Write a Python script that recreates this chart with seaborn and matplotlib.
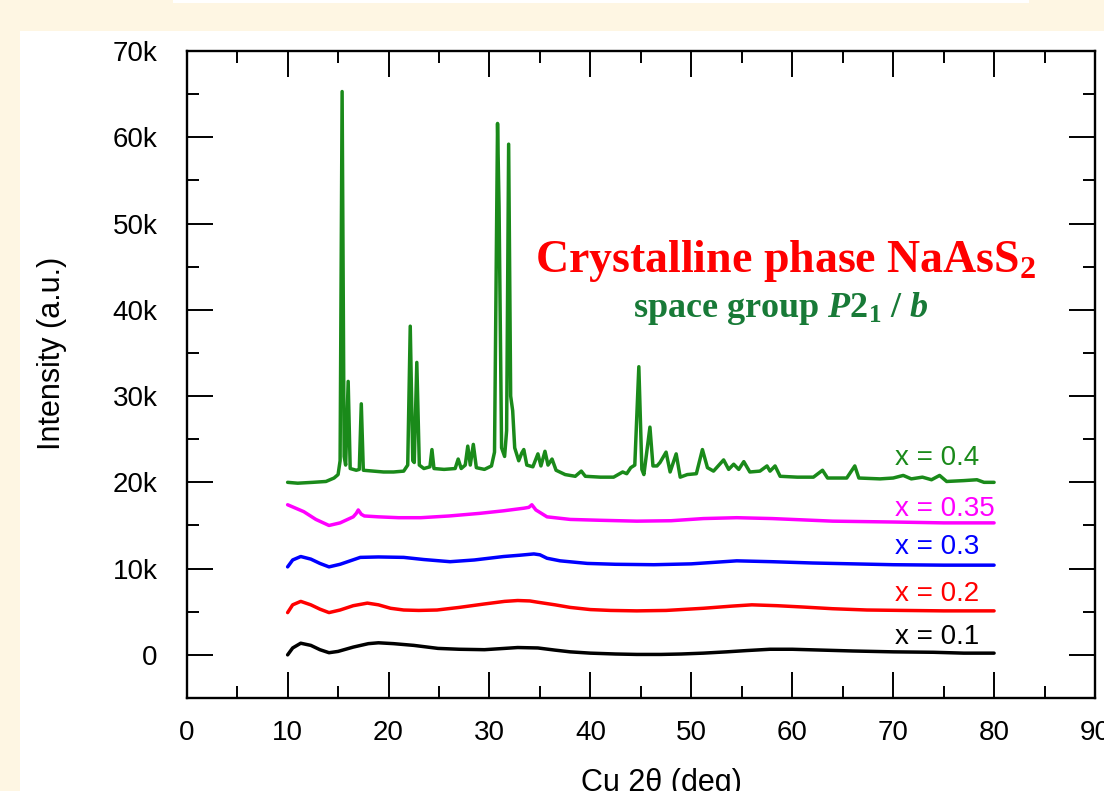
import matplotlib
matplotlib.use("Agg")
import matplotlib.pyplot as plt
from matplotlib.patches import Rectangle
from matplotlib.ticker import MultipleLocator, FuncFormatter
import pandas as pd
import seaborn as sns

# ---------------------------------------------------------------------------
# XRD patterns (Cu K-alpha), 2-theta in degrees, intensity in counts.
# Each pattern is stacked with its own vertical offset already included.
# ---------------------------------------------------------------------------
two_theta_01 = [10, 10.5, 11.3, 12.3, 13.2, 14.1, 15.0, 16.5, 18.0, 19.0, 20.5,
                22.5, 24.9, 27.0, 29.5, 31.5, 32.8, 34.8, 36.5, 38.0, 40.0, 42.5,
                44.6, 47.0, 49.0, 51.2, 53.5, 55.5, 57.8, 60.0, 63.0, 66.0, 70.0,
                74.0, 77.0, 80.0]
intensity_01 = [0, 800, 1350, 1100, 600, 250, 400, 900, 1300, 1400, 1300,
                1100, 750, 650, 600, 750, 850, 800, 550, 350, 200, 100,
                50, 50, 100, 200, 350, 500, 650, 650, 550, 450, 350,
                300, 200, 200]

two_theta_02 = [10, 10.5, 11.3, 12.3, 13.2, 14.1, 15.2, 16.5, 17.9, 19.0, 20.2,
                21.5, 23.0, 24.8, 27.0, 29.5, 31.5, 32.8, 34.0, 34.8, 36.5, 38.0,
                40.0, 42.0, 44.6, 47.5, 51.2, 54.0, 56.0, 58.5, 61.0, 64.0, 67.4,
                71.0, 75.0, 80.0]
intensity_02 = [4900, 5800, 6200, 5800, 5300, 4900, 5200, 5700, 6000, 5800, 5400,
                5200, 5150, 5200, 5500, 5900, 6200, 6300, 6250, 6100, 5800, 5500,
                5250, 5150, 5100, 5150, 5400, 5650, 5800, 5700, 5550, 5350, 5200,
                5150, 5100, 5100]

two_theta_03 = [10, 10.5, 11.3, 12.3, 13.2, 14.1, 15.2, 16.2, 17.2, 19.0, 21.5,
                23.5, 26.1, 28.5, 31.4, 33.0, 34.4, 35.0, 35.7, 37.0, 39.7, 42.5,
                46.3, 50.0, 54.5, 58.0, 62.0, 66.0, 70.0, 75.0, 80.0]
intensity_03 = [10200, 11000, 11400, 11100, 10600, 10200, 10500, 10900, 11300,
                11350, 11300, 11050, 10800, 11000, 11400, 11550, 11700, 11600,
                11200, 10900, 10600, 10500, 10450, 10550, 10900, 10800, 10650,
                10550, 10450, 10400, 10400]

two_theta_035 = [10, 10.6, 11.6, 12.8, 14.1, 15.2, 16.5, 16.8, 17.0, 17.3, 17.6,
                 19.0, 21.0, 23.2, 26.0, 29.0, 31.4, 33.4, 33.9, 34.2, 34.6, 35.7,
                 38.0, 41.0, 44.6, 48.0, 51.2, 54.5, 58.0, 64.0, 70.0, 75.0, 80.0]
intensity_035 = [17400, 17100, 16600, 15700, 15000, 15300, 16000, 16400, 16800,
                 16300, 16100, 16000, 15900, 15900, 16100, 16400, 16700, 17000,
                 17100, 17400, 16800, 16000, 15700, 15600, 15500, 15550, 15800,
                 15900, 15800, 15500, 15400, 15300, 15300]

two_theta_04 = [10.0, 11.0, 12.5, 13.8, 14.6, 15.0, 15.2, 15.4, 15.6, 15.75, 16.0,
                16.2, 16.8, 17.1, 17.3, 17.5, 18.5, 19.5, 20.5, 21.5, 21.9, 22.15,
                22.4, 22.55, 22.8, 23.05, 23.5, 24.1, 24.3, 24.5, 25.5, 26.6, 26.9,
                27.2, 27.6, 27.85, 28.1, 28.4, 28.7, 29.5, 30.2, 30.5, 30.8, 30.95,
                31.2, 31.5, 31.7, 31.9, 32.1, 32.3, 32.5, 32.9, 33.2, 33.4, 33.7,
                34.3, 34.8, 35.1, 35.5, 35.8, 36.2, 36.6, 37.5, 38.5, 39.1, 39.5,
                41.0, 42.3, 43.2, 43.6, 44.0, 44.4, 44.8, 45.1, 45.3, 45.9, 46.2,
                46.6, 46.9, 47.5, 47.9, 48.5, 48.9, 49.6, 50.5, 51.1, 51.6, 52.2,
                53.2, 53.7, 54.2, 54.7, 55.2, 55.8, 56.8, 57.5, 57.8, 58.3, 58.8,
                60.5, 62.1, 63.0, 63.5, 65.4, 66.2, 66.6, 68.7, 70.0, 71.0, 71.8,
                72.9, 73.8, 74.6, 75.3, 77.0, 78.3, 79.0, 80.0]
intensity_04 = [20000, 19900, 20000, 20100, 20500, 20900, 22500, 65300, 23000,
                22000, 31700, 21600, 21400, 21500, 29100, 21400, 21300, 21200,
                21200, 21300, 22000, 38100, 22500, 22300, 33900, 22000, 21600,
                21800, 23800, 21600, 21500, 21600, 22700, 21600, 22000, 24200,
                22000, 24400, 21700, 21500, 21900, 23500, 61600, 52000, 24000,
                23000, 26000, 59200, 30000, 28300, 24000, 22500, 23400, 23800,
                22000, 21800, 23300, 21900, 23600, 22000, 22700, 21400, 20900,
                20700, 21300, 20700, 20600, 20600, 21200, 21000, 21700, 22000,
                33400, 21500, 20900, 26400, 21900, 21900, 22300, 23500, 21200,
                23300, 20600, 20900, 21000, 23800, 21700, 21300, 22600, 21500,
                22100, 21500, 22400, 21200, 21300, 21900, 21300, 21900, 20700,
                20600, 20600, 21400, 20500, 20500, 21900, 20500, 20400, 20500,
                20800, 20400, 20600, 20300, 20800, 20100, 20200, 20300, 20000,
                20000]

compositions = ["x = 0.1", "x = 0.2", "x = 0.3", "x = 0.35", "x = 0.4"]
series_colors = ["#000000", "#ff0000", "#0000ff", "#ff00ff", "#1a8a1a"]
# label anchor (2-theta, intensity) for each composition tag
label_x = [70.2, 70.2, 70.2, 70.2, 70.2]
label_y = [1300, 6200, 11700, 16100, 22000]

patterns = [
    (two_theta_01, intensity_01),
    (two_theta_02, intensity_02),
    (two_theta_03, intensity_03),
    (two_theta_035, intensity_035),
    (two_theta_04, intensity_04),
]

frames = []
for name, (tt, ii) in zip(compositions, patterns):
    frames.append(pd.DataFrame({"two_theta": tt, "intensity": ii,
                                "composition": name}))
data = pd.concat(frames, ignore_index=True)

# ---------------------------------------------------------------------------
sns.set_theme(style="ticks")
plt.rcParams["font.family"] = ["Liberation Sans", "DejaVu Sans"]
plt.rcParams["mathtext.fontset"] = "custom"
plt.rcParams["mathtext.rm"] = "Liberation Serif:bold"
plt.rcParams["mathtext.it"] = "Liberation Serif:italic:bold"
plt.rcParams["mathtext.default"] = "regular"
for key in ("text.color", "axes.labelcolor", "xtick.color", "ytick.color",
            "xtick.labelcolor", "ytick.labelcolor"):
    plt.rcParams[key] = "black"

W, H = 1104, 791
cream = "#fef6e3"
fig = plt.figure(figsize=(W / 100, H / 100), dpi=100, facecolor=cream)

# white slide panels
fig.add_artist(Rectangle((20 / W, 0), 1 - 20 / W, (H - 31) / H,
                         transform=fig.transFigure, facecolor="white",
                         edgecolor="none", zorder=-10))
fig.add_artist(Rectangle((173 / W, 1 - 3 / H), (1029 - 173) / W, 3 / H,
                         transform=fig.transFigure, facecolor="white",
                         edgecolor="none", zorder=-10))

left, right, top, bottom = 186.7, 1095.0, 51.0, 698.0
ax = fig.add_axes([left / W, (H - bottom) / H, (right - left) / W,
                   (bottom - top) / H])
ax.set_facecolor("white")

sns.lineplot(data=data, x="two_theta", y="intensity", hue="composition",
             hue_order=compositions, palette=series_colors, sort=False,
             estimator=None, linewidth=2.5, legend=False, ax=ax)

for name, col, lx, ly in zip(compositions, series_colors, label_x, label_y):
    ax.text(lx, ly, name, color=col, fontsize=20, ha="left", va="baseline")

ax.text(0.659, 0.658, r"Crystalline phase NaAsS$_2$", transform=ax.transAxes,
        color="#ff0000", fontsize=33, fontweight="bold",
        family="Liberation Serif", ha="center", va="baseline")
ax.text(0.654, 0.589, r"space group $\mathit{P}$2$_1$ / $\mathit{b}$",
        transform=ax.transAxes, color="#187a37", fontsize=26,
        fontweight="bold", family="Liberation Serif", ha="center",
        va="baseline")

ax.set_xlim(0, 90)
ax.set_ylim(-5000, 70000)
ax.xaxis.set_major_locator(MultipleLocator(10))
ax.xaxis.set_minor_locator(MultipleLocator(5))
ax.yaxis.set_major_locator(MultipleLocator(10000))
ax.yaxis.set_minor_locator(MultipleLocator(5000))
ax.yaxis.set_major_formatter(FuncFormatter(
    lambda v, p: "0" if v == 0 else f"{v / 1000:.0f}k"))

for s in ax.spines.values():
    s.set_linewidth(1.7)
    s.set_color("black")
ax.tick_params(which="both", direction="in", top=True, right=True,
               color="black", width=1.4, labelcolor="black")
ax.tick_params(which="major", length=18.5, labelsize=20, pad=16)
ax.tick_params(which="minor", length=8.6)
ax.tick_params(axis="y", which="major", pad=21)

ax.set_xlabel("Cu 2θ (deg)", fontsize=22, color="black")
ax.set_ylabel("Intensity (a.u.)", fontsize=22, color="black")
ax.xaxis.set_label_coords(0.523, -0.108)
ax.yaxis.set_label_coords(-0.132, 0.533)

fig.savefig("out.png", dpi=100, facecolor=cream)
